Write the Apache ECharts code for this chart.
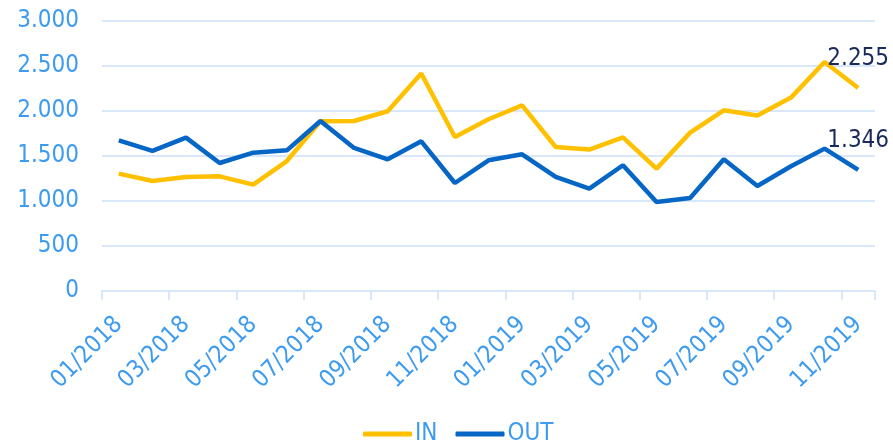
<!DOCTYPE html>
<html>
<head>
<meta charset="utf-8">
<script src="https://cdn.jsdelivr.net/npm/echarts@6/dist/echarts.min.js"></script>
<style>
html,body{margin:0;padding:0;background:#fff;}
#c{width:893px;height:444px;}
</style>
</head>
<body>
<div id="c"></div>
<script>
const categories = ["01/2018","02/2018","03/2018","04/2018","05/2018","06/2018","07/2018","08/2018","09/2018","10/2018","11/2018","12/2018",
  "01/2019","02/2019","03/2019","04/2019","05/2019","06/2019","07/2019","08/2019","09/2019","10/2019","11/2019"];
const inValues = [1304,1222,1267,1274,1182,1444,1886,1889,1997,2416,1711,1908,
  2063,1600,1571,1708,1360,1760,2008,1949,2149,2544,2255];
const outValues = [1674,1556,1704,1422,1537,1563,1889,1589,1463,1663,1200,1452,
  1519,1267,1137,1397,989,1033,1463,1167,1386,1582,1346];
const yTicks = [0,500,1000,1500,2000,2500,3000];

const FONT = '"DejaVu Sans Condensed","DejaVu Sans",sans-serif';
const LABEL_BLUE = '#3d9bf0';
const GRID_BLUE = '#d8e7f9';
const IN_COLOR = '#FFC000';
const OUT_COLOR = '#0666C6';

function fmt(v){
  const s = String(Math.round(v));
  return s.replace(/\B(?=(\d{3})+(?!\d))/g, '.');
}
function withLastLabel(arr){
  return arr.map((v,i)=> i === arr.length-1 ? {value:v, label:{show:true}} : v);
}

const chart = echarts.init(document.getElementById('c'), null, {renderer:'canvas'});
chart.setOption({
  animation:false,
  textStyle:{fontFamily:FONT},
  grid:{left:102, right:18, top:21, bottom:153, containLabel:false},
  legend:{
    data:[{name:'IN', icon:'roundRect'},{name:'OUT', icon:'roundRect'}],
    top:417, left:358,
    itemWidth:49, itemHeight:5, itemGap:18,
    textStyle:{color:LABEL_BLUE, fontSize:24, fontFamily:FONT, padding:[0,0,0,-2]}
  },
  xAxis:{
    type:'category',
    data:categories,
    boundaryGap:true,
    axisLine:{lineStyle:{color:GRID_BLUE, width:2}},
    axisTick:{show:true, interval:1, length:9, lineStyle:{color:GRID_BLUE, width:2}},
    axisLabel:{interval:1, rotate:45, margin:30, color:LABEL_BLUE, fontSize:24, fontFamily:FONT}
  },
  yAxis:{
    type:'value',
    min:yTicks[0], max:yTicks[yTicks.length-1], interval:yTicks[1]-yTicks[0],
    axisLine:{show:false}, axisTick:{show:false},
    splitLine:{lineStyle:{color:GRID_BLUE, width:2}},
    axisLabel:{margin:23, color:LABEL_BLUE, fontSize:24, fontFamily:FONT, formatter:fmt}
  },
  series:[
    {name:'IN', type:'line', data:withLastLabel(inValues), symbol:'circle', symbolSize:0.1, showSymbol:true,
     lineStyle:{color:IN_COLOR, width:4.5}, itemStyle:{color:IN_COLOR},
     label:{show:false, position:'top', distance:17, color:'#1b2a5c', fontSize:24, fontFamily:FONT, formatter:p=>fmt(p.value)}},
    {name:'OUT', type:'line', data:withLastLabel(outValues), symbol:'circle', symbolSize:0.1, showSymbol:true,
     lineStyle:{color:OUT_COLOR, width:4.5}, itemStyle:{color:OUT_COLOR},
     label:{show:false, position:'top', distance:17, color:'#1b2a5c', fontSize:24, fontFamily:FONT, formatter:p=>fmt(p.value)}}
  ]
});
</script>
</body>
</html>
